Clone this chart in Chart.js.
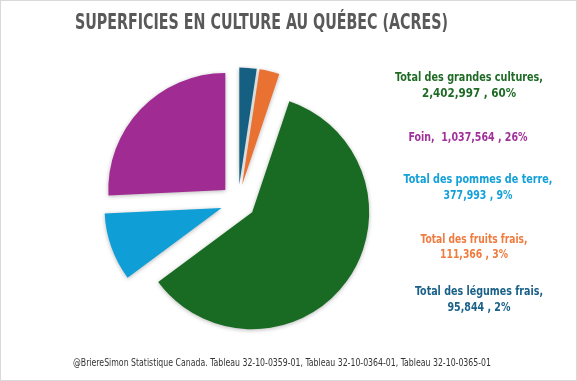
<!DOCTYPE html>
<html>
<head>
<meta charset="utf-8">
<script src="https://cdn.jsdelivr.net/npm/chart.js@4"></script>
<style>
  html, body { margin: 0; padding: 0; background: #fff; }
  #wrap { width: 577px; height: 381px; }
</style>
</head>
<body>
<div id="wrap"><canvas id="c" width="577" height="381"></canvas></div>
<script>
// ---- Data ----
const categories = [
  "Total des légumes frais",
  "Total des fruits frais",
  "Total des grandes cultures",
  "Total des pommes de terre",
  "Foin"
];
const values = [95844, 111366, 2402997, 377993, 1037564];
const colors = ["#156082", "#E97132", "#196B24", "#0F9ED5", "#A02B93"];
const labelColors = ["#1A6189", "#F07B3F", "#1F6B26", "#14A0D8", "#A0309A"];
const titleText = "SUPERFICIES EN CULTURE AU QUÉBEC (ACRES)";
const sourceText = "@BriereSimon Statistique Canada. Tableau 32-10-0359-01, Tableau 32-10-0364-01, Tableau 32-10-0365-01";

// ---- Layout for text (not data) ----
const labelLayout = [
  { x: 479, y: [292, 308], w: [128, 63], lines: 2 },   // légumes
  { x: 474, y: [240, 255], w: [107, 68], lines: 2 },   // fruits
  { x: 469, y: [78, 94],  w: [148, 103], lines: 2 },   // grandes cultures
  { x: 478, y: [180, 196], w: [149, 69], lines: 2 },   // pommes de terre
  { x: 468, y: [138],      w: [119], lines: 1 }        // foin
];
const explode = 17.5; // px each slice is pulled out from the centre

const total = values.reduce((a, b) => a + b, 0);
const fmt = n => n.toLocaleString("en-US");

function labelLines(i) {
  const pct = Math.round(values[i] / total * 100) + "%";
  if (labelLayout[i].lines === 1) {
    return [categories[i] + ",  " + fmt(values[i]) + " , " + pct];
  }
  return [categories[i] + ",", fmt(values[i]) + " , " + pct];
}

const explodePlugin = {
  id: "explodePlugin",
  beforeDatasetsDraw(chart) {
    const ctx = chart.ctx;
    const meta = chart.getDatasetMeta(0);
    meta.data.forEach(arc => {
      if (arc._baseX === undefined) { arc._baseX = arc.x; arc._baseY = arc.y; }
      const mid = (arc.startAngle + arc.endAngle) / 2;
      arc.x = arc._baseX + Math.cos(mid) * explode;
      arc.y = arc._baseY + Math.sin(mid) * explode;
    });
    ctx.save();
    ctx.shadowColor = "rgba(0,0,0,0.28)";
    ctx.shadowBlur = 4;
    ctx.shadowOffsetX = 0;
    ctx.shadowOffsetY = 1;
  },
  afterDatasetsDraw(chart) {
    chart.ctx.restore();
  }
};

const textPlugin = {
  id: "textPlugin",
  afterDraw(chart) {
    const ctx = chart.ctx;
    ctx.save();
    // border
    ctx.strokeStyle = "#D9D9D9";
    ctx.lineWidth = 1;
    ctx.strokeRect(0.5, 0.5, 576, 380);
    // title
    ctx.fillStyle = "#595959";
    ctx.textAlign = "center";
    ctx.textBaseline = "middle";
    ctx.font = "bold 21px 'Liberation Sans Narrow', 'DejaVu Sans Condensed', sans-serif";
    ctx.fillText(titleText, 261.5, 24, 373);
    // labels
    ctx.font = "bold 11.5px 'Liberation Sans Narrow', 'DejaVu Sans Condensed', sans-serif";
    for (let i = 0; i < categories.length; i++) {
      const lines = labelLines(i);
      ctx.fillStyle = labelColors[i];
      lines.forEach((t, k) => {
        ctx.fillText(t, labelLayout[i].x, labelLayout[i].y[k], labelLayout[i].w[k]);
      });
    }
    // source
    ctx.fillStyle = "#333333";
    ctx.font = "10px 'Liberation Sans Narrow', 'DejaVu Sans Condensed', sans-serif";
    ctx.fillText(sourceText, 282, 363, 418);
    ctx.restore();
  }
};

new Chart(document.getElementById("c"), {
  type: "pie",
  data: {
    labels: categories,
    datasets: [{
      data: values,
      backgroundColor: colors,
      borderWidth: 0
    }]
  },
  options: {
    responsive: false,
    animation: false,
    events: [],
    layout: { padding: { left: 121, right: 222, top: 85, bottom: 62 } },
    plugins: {
      legend: { display: false },
      title: { display: false },
      tooltip: { enabled: false }
    }
  },
  plugins: [explodePlugin, textPlugin]
});
</script>
</body>
</html>
